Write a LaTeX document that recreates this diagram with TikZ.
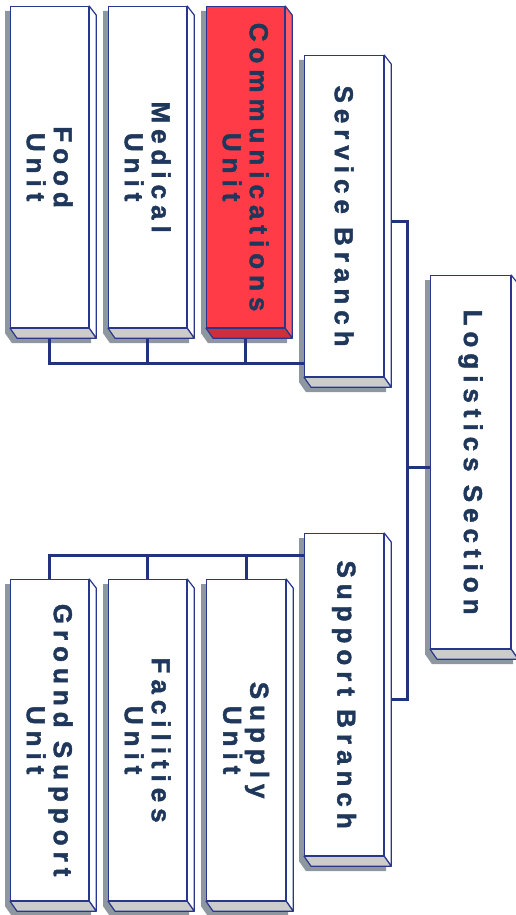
\documentclass[tikz,border=0pt]{standalone}
\usepackage{fontspec}
\setmainfont{Liberation Sans}
\newfontfamily\chartfont[LetterSpace=23, FakeBold=1.6]{Liberation Sans Bold}
\usetikzlibrary{calc}

\definecolor{boxline}{RGB}{40,55,140}
\definecolor{linknavy}{RGB}{35,50,125}
\definecolor{textnavy}{RGB}{30,55,90}
\definecolor{shadowgray}{RGB}{142,151,160}
\definecolor{facegray}{RGB}{204,204,204}
\definecolor{commsred}{RGB}{255,59,71}
\definecolor{commsside}{RGB}{255,96,104}
\definecolor{commsbase}{RGB}{205,48,58}

\pgfdeclarelayer{back}
\pgfsetlayers{back,main}

\tikzset{
	unitbox/.style={draw=boxline, fill=white, line width=1.2pt, inner sep=0pt, anchor=north west, minimum width=78pt, minimum height=321pt},
	boxtext/.style={rotate=-90, align=center, text=textnavy, font=\chartfont\fontsize{26}{27}\selectfont, inner sep=0pt},
	face/.style={draw=boxline, line width=1.2pt, line join=round},
	link/.style={draw=linknavy, line width=3pt}
}

\begin{document}
\begin{tikzpicture}[x=1pt, y=-1pt]
		\useasboundingbox (0,0) rectangle (515,915);
		% front faces
		\node[unitbox] (food) at (10,6) {};
		\node[unitbox] (medical) at (108,6) {};
		\node[unitbox, fill=commsred] (comms) at (206,6) {};
		\node[unitbox, minimum width=79pt] (service) at (304,55) {};
		\node[unitbox, minimum width=80pt, minimum height=373pt] (logistics) at (430,275) {};
		\node[unitbox, minimum width=79pt, minimum height=322pt] (support) at (304,533) {};
		\node[unitbox] (ground) at (10,579) {};
		\node[unitbox] (facilities) at (108,579) {};
		\node[unitbox, minimum width=79pt] (supply) at (206,579) {};
		% side and bottom faces
		\foreach \b/\sidefill/\basefill in {food/white/facegray, medical/white/facegray, comms/commsside/commsbase, service/white/facegray, logistics/white/facegray, support/white/facegray, ground/white/facegray, facilities/white/facegray, supply/white/facegray}{
			\filldraw[face, fill=\sidefill] (\b.north east) -- ++(7,9) -- ($(\b.south east)+(7,10)$) -- (\b.south east) -- cycle;
			\filldraw[face, fill=\basefill] (\b.south west) -- (\b.south east) -- ++(7,10) -- ($(\b.south west)+(7,10)$) -- cycle;
		}
		% labels
		\node[boxtext] (food-text) at (food) {Food\\Unit};
		\node[boxtext] (medical-text) at (medical) {Medical\\Unit};
		\node[boxtext] (comms-text) at (comms) {Communications\\Unit};
		\node[boxtext] (service-text) at (service) {Service Branch};
		\node[boxtext] (logistics-text) at (logistics) {Logistics Section};
		\node[boxtext] (support-text) at (support) {Support Branch};
		\node[boxtext] (ground-text) at (ground) {Ground Support\\Unit};
		\node[boxtext] (facilities-text) at (facilities) {Facilities\\Unit};
		\node[boxtext] (supply-text) at (supply) {Supply\\Unit};
		% bus levels and trunk
		\coordinate (topbus) at (0,363);
		\coordinate (lowbus) at (0,555);
		\coordinate (trunk) at (407,0);
		\coordinate (service-end) at ($(service.east)+(7,5)$);
		\coordinate (support-end) at ($(support.east)+(7,5)$);
		\coordinate (logistics-end) at ($(logistics.west)+(0,5)$);
		\begin{pgfonlayer}{back}
			\foreach \b in {food, medical, comms, service, logistics, support, ground, facilities, supply}
				\fill[shadowgray] ($(\b.north west)+(-5,5)$) -- ($(\b.north east)+(-5,5)$) -- ($(\b.north east)+(2,14)$) -- ($(\b.south east)+(2,15)$) -- ($(\b.south west)+(2,15)$) -- ($(\b.south west)+(-5,5)$) -- cycle;
			% connectors
			\draw[link] (food.south) -- (food.south |- topbus) -- (service.west |- topbus);
			\draw[link] (medical.south) -- (medical.south |- topbus);
			\draw[link] (comms.south) -- (comms.south |- topbus);
			\draw[link] (ground.north) -- (ground.north |- lowbus) -- (support.west |- lowbus);
			\draw[link] (facilities.north) -- (facilities.north |- lowbus);
			\draw[link] (supply.north) -- (supply.north |- lowbus);
			\draw[link] (service-end) -- (service-end -| trunk) -- (support-end -| trunk) -- (support-end);
			\draw[link] (trunk |- logistics-end) -- (logistics-end);
		\end{pgfonlayer}
	\end{tikzpicture}
\end{document}
